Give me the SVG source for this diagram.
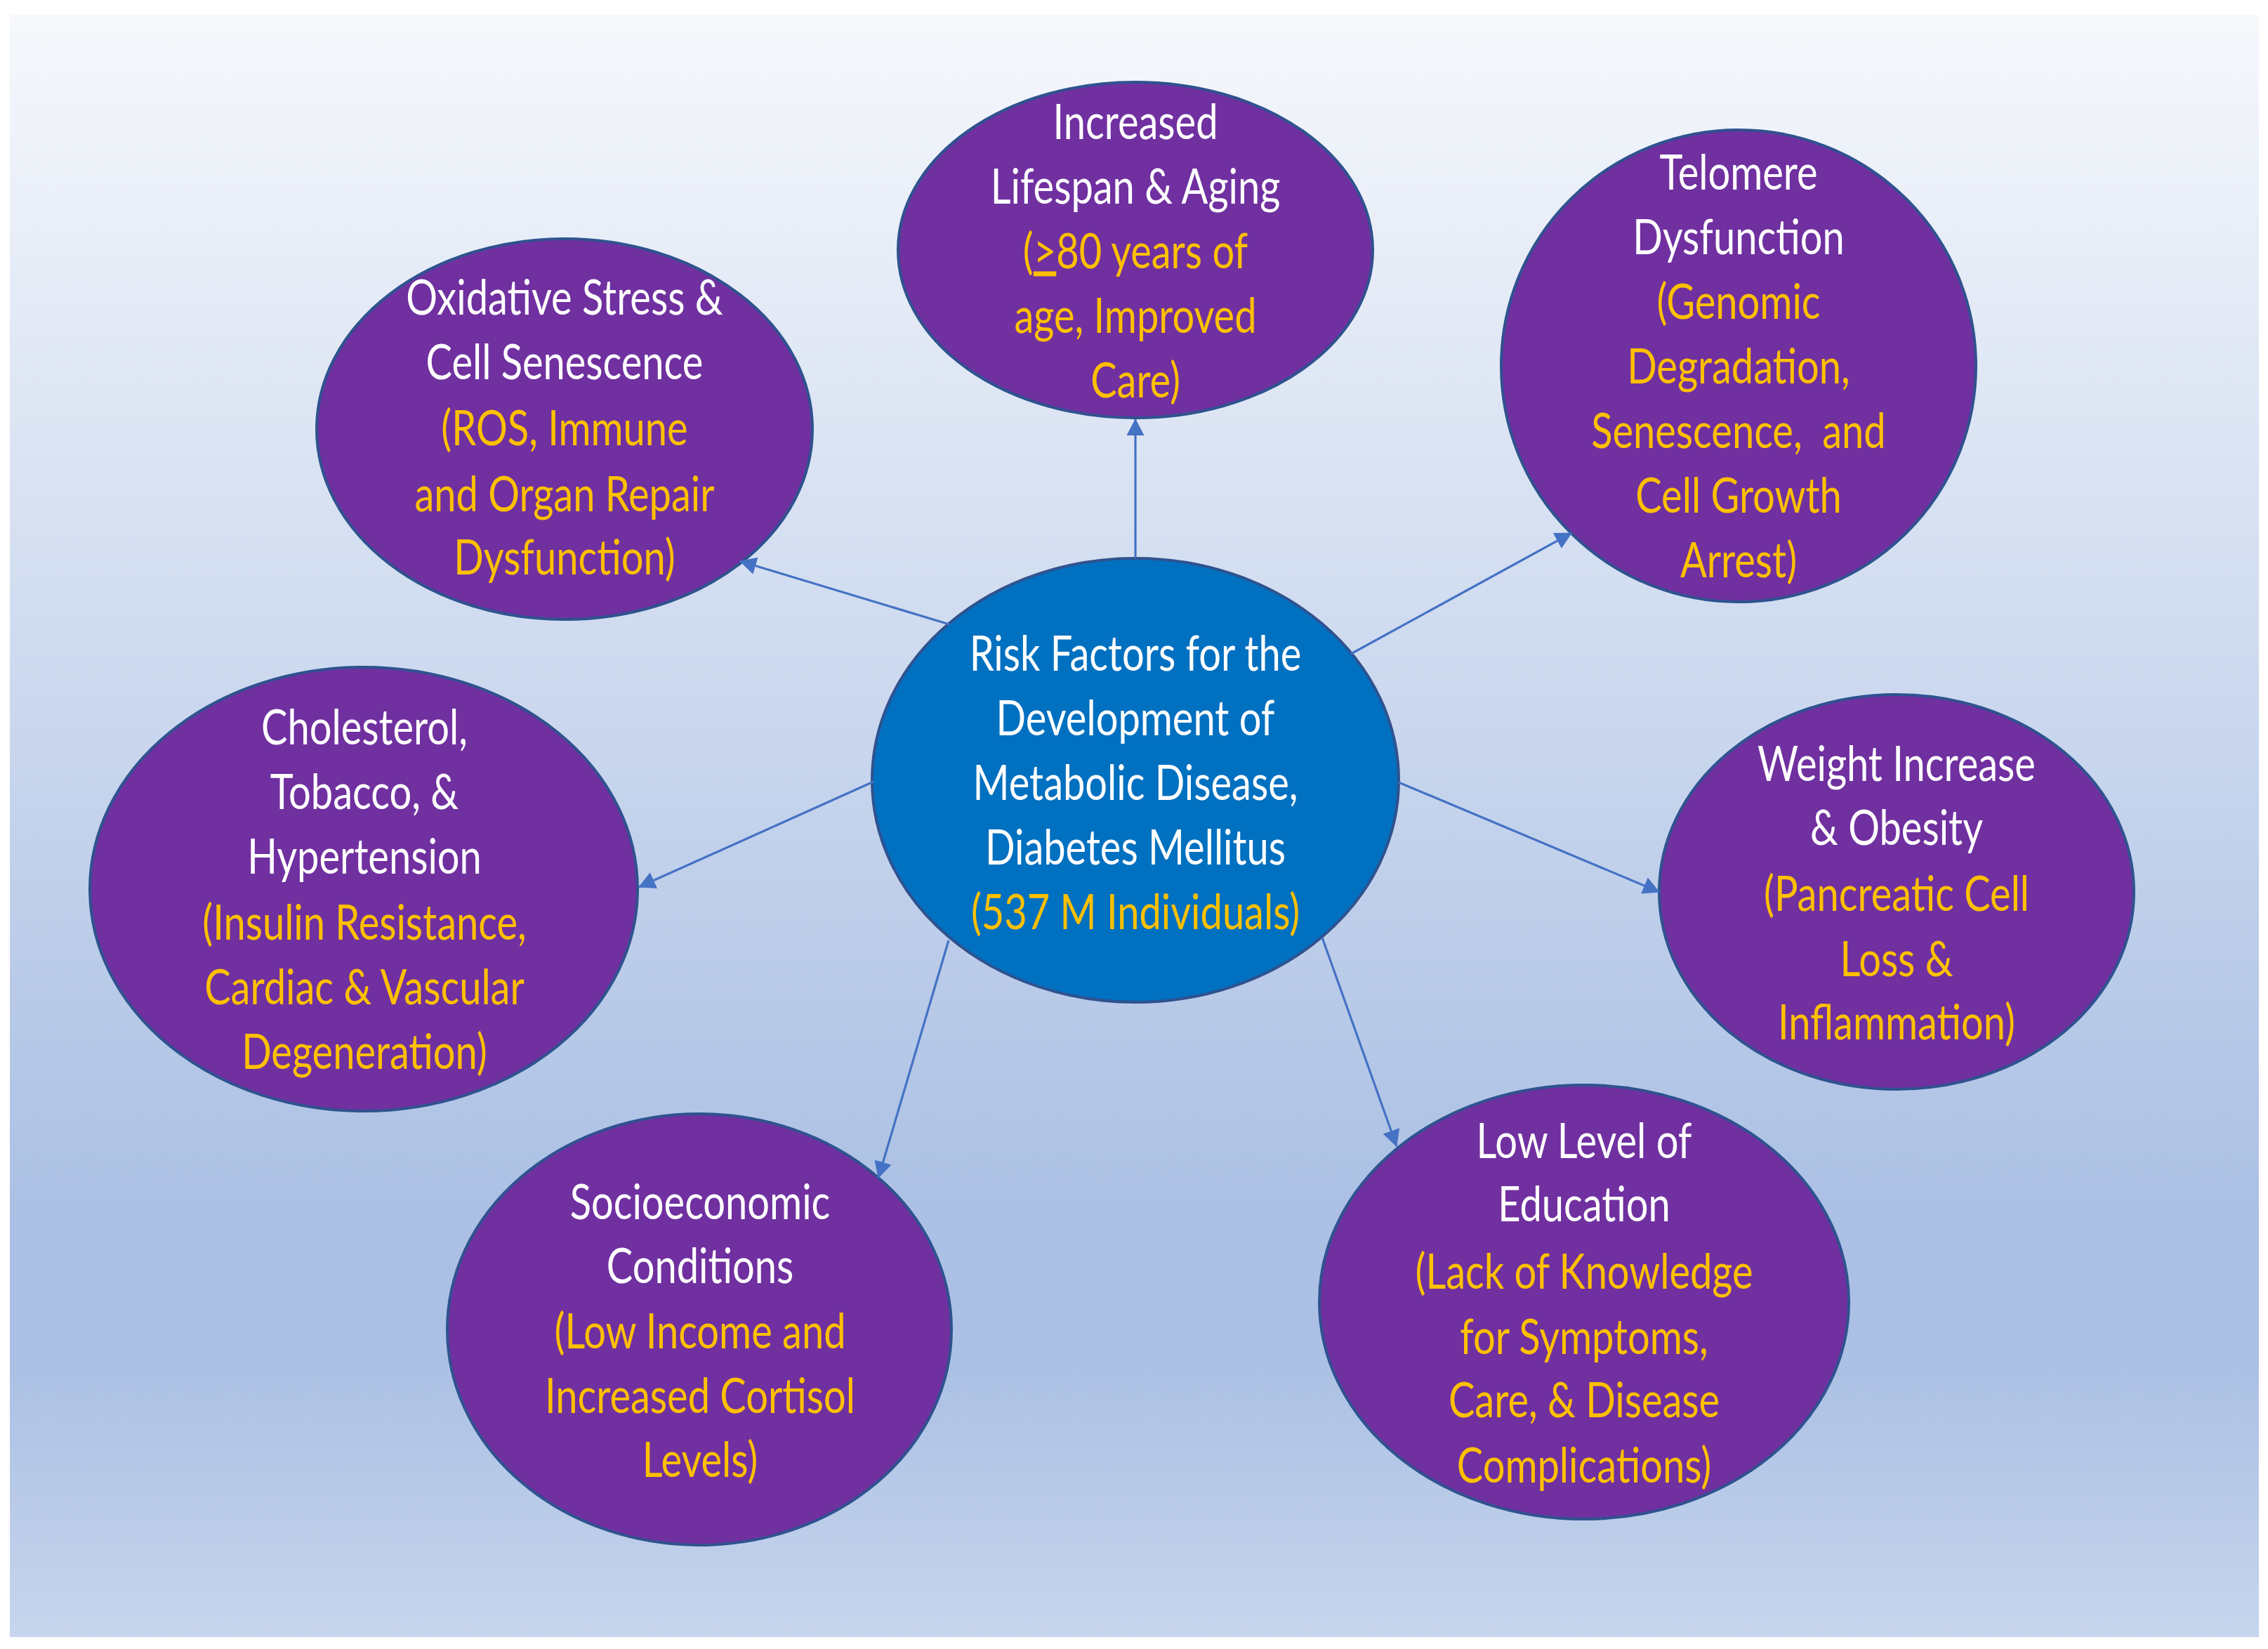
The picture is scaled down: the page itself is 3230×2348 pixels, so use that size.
<svg xmlns="http://www.w3.org/2000/svg" width="3230" height="2348" viewBox="0 0 3230 2348">
<defs>
<linearGradient id="bg" x1="0" y1="0" x2="0" y2="1">
<stop offset="0" stop-color="#f6f8fc"/>
<stop offset="0.74" stop-color="#abc0e4"/>
<stop offset="0.83" stop-color="#abc0e4"/>
<stop offset="1" stop-color="#c7d5ed"/>
</linearGradient>
<marker id="arr" markerUnits="userSpaceOnUse" markerWidth="26" markerHeight="26" refX="23" refY="12.5" orient="auto">
<path d="M0,0 L24,12.5 L0,25 z" fill="#4472c4"/>
</marker>
<style>
.node{fill:#7030a0;stroke:#2f528f;stroke-width:4}
.core{fill:#0070c0;stroke:#2f528f;stroke-width:4}
.t{font-family:Lato,"Liberation Sans",sans-serif;font-size:70px;text-anchor:middle}
.w{fill:#ffffff}
.g{fill:#ffc000}
.c{stroke:#4472c4;stroke-width:3.2;fill:none;marker-end:url(#arr)}
</style>
</defs>
<rect x="14" y="21" width="3203" height="2310" fill="url(#bg)"/>

<g id="node-center">
<ellipse class="core" cx="1617" cy="1111" rx="375" ry="316"/>
<g transform="translate(1617,0) scale(0.8,1)">
<text class="t w" x="0" y="955">Risk Factors for the</text>
<text class="t w" x="0" y="1047">Development of</text>
<text class="t w" x="0" y="1139">Metabolic Disease,</text>
<text class="t w" x="0" y="1231">Diabetes Mellitus</text>
<text class="t g" x="0" y="1323">(537 M Individuals)</text>
</g>
</g>

<g id="node-aging">
<ellipse class="node" cx="1617" cy="356" rx="338" ry="239"/>
<g transform="translate(1617,0) scale(0.8,1)">
<text class="t w" x="0" y="198">Increased</text>
<text class="t w" x="0" y="290">Lifespan &amp; Aging</text>
<text class="t g" x="0" y="382">(<tspan text-decoration="underline">&gt;</tspan>80 years of</text>
<text class="t g" x="0" y="474">age, Improved</text>
<text class="t g" x="0" y="566">Care)</text>
</g>
</g>

<g id="node-telomere">
<ellipse class="node" cx="2476" cy="521" rx="338" ry="336"/>
<g transform="translate(2476,0) scale(0.8,1)">
<text class="t w" x="0" y="270">Telomere</text>
<text class="t w" x="0" y="362">Dysfunction</text>
<text class="t g" x="0" y="454">(Genomic</text>
<text class="t g" x="0" y="546">Degradation,</text>
<text class="t g" x="0" y="638" xml:space="preserve">Senescence,  and</text>
<text class="t g" x="0" y="730">Cell Growth</text>
<text class="t g" x="0" y="822">Arrest)</text>
</g>
</g>

<g id="node-oxidative">
<ellipse class="node" cx="804" cy="611" rx="353" ry="271"/>
<g transform="translate(804,0) scale(0.8,1)">
<text class="t w" x="0" y="448">Oxidative Stress &amp;</text>
<text class="t w" x="0" y="540">Cell Senescence</text>
<text class="t g" x="0" y="634">(ROS, Immune</text>
<text class="t g" x="0" y="728">and Organ Repair</text>
<text class="t g" x="0" y="818">Dysfunction)</text>
</g>
</g>

<g id="node-cholesterol">
<ellipse class="node" cx="518" cy="1266" rx="390" ry="316"/>
<g transform="translate(519,0) scale(0.8,1)">
<text class="t w" x="0" y="1060">Cholesterol,</text>
<text class="t w" x="0" y="1152">Tobacco, &amp;</text>
<text class="t w" x="0" y="1244">Hypertension</text>
<text class="t g" x="0" y="1338">(Insulin Resistance,</text>
<text class="t g" x="0" y="1430">Cardiac &amp; Vascular</text>
<text class="t g" x="0" y="1522">Degeneration)</text>
</g>
</g>

<g id="node-weight">
<ellipse class="node" cx="2701" cy="1270" rx="338" ry="281"/>
<g transform="translate(2701,0) scale(0.8,1)">
<text class="t w" x="0" y="1112">Weight Increase</text>
<text class="t w" x="0" y="1203">&amp; Obesity</text>
<text class="t g" x="0" y="1297">(Pancreatic Cell</text>
<text class="t g" x="0" y="1390">Loss &amp;</text>
<text class="t g" x="0" y="1480">Inflammation)</text>
</g>
</g>

<g id="node-socioeconomic">
<ellipse class="node" cx="996" cy="1893" rx="359" ry="307"/>
<g transform="translate(997,0) scale(0.8,1)">
<text class="t w" x="0" y="1736">Socioeconomic</text>
<text class="t w" x="0" y="1827">Conditions</text>
<text class="t g" x="0" y="1920">(Low Income and</text>
<text class="t g" x="0" y="2012">Increased Cortisol</text>
<text class="t g" x="0" y="2103">Levels)</text>
</g>
</g>

<g id="node-education">
<ellipse class="node" cx="2256" cy="1854" rx="377" ry="309"/>
<g transform="translate(2256,0) scale(0.8,1)">
<text class="t w" x="0" y="1649">Low Level of</text>
<text class="t w" x="0" y="1739">Education</text>
<text class="t g" x="0" y="1835">(Lack of Knowledge</text>
<text class="t g" x="0" y="1928">for Symptoms,</text>
<text class="t g" x="0" y="2018">Care, &amp; Disease</text>
<text class="t g" x="0" y="2111">Complications)</text>
</g>
</g>

<g id="connectors">
<line class="c" x1="1617" y1="795" x2="1617" y2="597"/>
<line class="c" x1="1352" y1="889" x2="1054" y2="799"/>
<line class="c" x1="1924" y1="931" x2="2238" y2="759"/>
<line class="c" x1="1244" y1="1113" x2="910" y2="1263"/>
<line class="c" x1="1992" y1="1114" x2="2363" y2="1270"/>
<line class="c" x1="1351" y1="1339" x2="1251" y2="1677"/>
<line class="c" x1="1883" y1="1335" x2="1989" y2="1632"/>
</g>
</svg>
